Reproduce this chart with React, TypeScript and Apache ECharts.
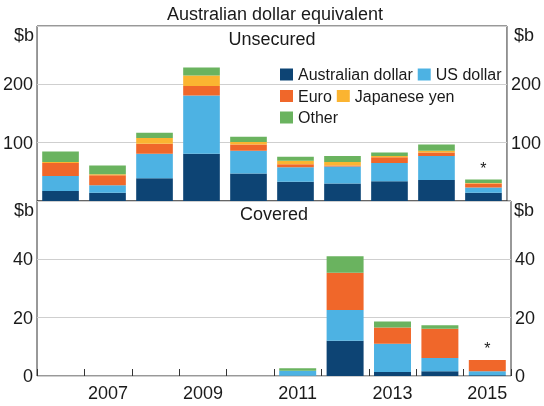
import React, { useEffect, useRef } from 'react';
import * as echarts from 'echarts';

const years = ['2006', '2007', '2008', '2009', '2010', '2011', '2012', '2013', '2014', '2015'];
const seriesNames = ['Australian dollar', 'US dollar', 'Euro', 'Japanese yen', 'Other'];
const colors = ['#0d4474', '#4db2e3', '#f0672a', '#fbb431', '#6ab35f'];

// Unsecured issuance ($b)
const unsecAUD = [17, 14, 39, 81, 47, 33, 30, 34, 36, 14];
const unsecUSD = [26, 13, 42, 100, 39, 25, 29, 31, 41, 9];
const unsecEUR = [22, 17, 17, 16, 11, 5, 2, 10, 6, 7];
const unsecJPY = [2, 2, 10, 18, 4, 6, 6, 2, 3, 1];
const unsecOther = [18, 15, 9, 14, 9, 7, 10, 6, 11, 6];

// Covered issuance ($b)
const covAUD = [0, 0, 0, 0, 0, 0.1, 12.1, 1.4, 1.6, 0.3];
const covUSD = [0, 0, 0, 0, 0, 1.7, 10.5, 9.7, 4.6, 1.3];
const covEUR = [0, 0, 0, 0, 0, 0, 12.8, 5.5, 10, 3.9];
const covJPY = [0, 0, 0, 0, 0, 0, 0, 0, 0, 0];
const covOther = [0, 0, 0, 0, 0, 0.9, 5.7, 2.1, 1.2, 0];

const unsecAxisTicks = { min: 0, max: 300, interval: 100 };
const covAxisTicks = { min: 0, max: 60, interval: 20 };
const starIndex = 9;

const FONT = 'Liberation Sans, Arial, sans-serif';
const TXT = '#1a1a1a';
const FS = 18;

export default function App() {
  const ref = useRef<HTMLDivElement>(null);
  useEffect(() => {
    const chart = echarts.init(ref.current!, null, { renderer: 'svg' });
    const unsec = [unsecAUD, unsecUSD, unsecEUR, unsecJPY, unsecOther];
    const cov = [covAUD, covUSD, covEUR, covJPY, covOther];

    const mkSeries = (arrs: number[][], xi: number, yi: number, stack: string) =>
      arrs.map((arr, i) => ({
        type: 'bar',
        name: seriesNames[i],
        xAxisIndex: xi,
        yAxisIndex: yi,
        stack,
        barCategoryGap: '22%',
        itemStyle: { color: colors[i] },
        data: arr.map((v, j) =>
          i === 4 && j === starIndex
            ? {
                value: v,
                label: {
                  show: true,
                  position: 'top',
                  distance: 3,
                  formatter: '*',
                  fontSize: 16,
                  fontFamily: FONT,
                  color: TXT,
                },
              }
            : v
        ),
      }));

    const yCommon = (gi: number, pos: string, ticks: any, split: boolean) => ({
      type: 'value',
      gridIndex: gi,
      position: pos,
      ...ticks,
      axisLine: { show: false },
      axisTick: { show: false },
      splitLine: { show: split, lineStyle: { color: '#cfcfcf', width: 1 } },
      axisLabel: {
        margin: 4,
        fontSize: FS,
        fontFamily: FONT,
        color: TXT,
        showMaxLabel: false,
        showMinLabel: gi === 1,
      },
    });

    const legendCommon = {
      icon: 'rect',
      itemWidth: 13,
      itemHeight: 12,
      itemGap: 5,
      selectedMode: false,
      padding: 0,
      textStyle: { fontSize: 16, fontFamily: FONT, color: TXT },
    };

    const txt = (text: string, x: number, y: number, align: string) => ({
      type: 'text',
      x,
      y,
      style: {
        text,
        fontSize: FS,
        fontFamily: FONT,
        fill: TXT,
        align,
        verticalAlign: 'middle',
      },
    });

    chart.setOption({
      animation: false,
      grid: [
        { left: 37, right: 33, top: 26, height: 175, show: true, borderColor: '#333', borderWidth: 1 },
        { left: 37, right: 33, top: 201, height: 175, show: true, borderColor: '#333', borderWidth: 1 },
      ],
      xAxis: [
        {
          type: 'category',
          gridIndex: 0,
          data: years,
          axisLine: { show: false },
          axisTick: { show: false },
          axisLabel: { show: false },
        },
        {
          type: 'category',
          gridIndex: 1,
          data: years,
          axisLine: { show: false },
          axisTick: {
            show: true,
            inside: true,
            length: 7,
            interval: 0,
            alignWithLabel: false,
            lineStyle: { color: '#333' },
          },
          axisLabel: {
            interval: (idx: number) => idx % 2 === 1,
            margin: 8,
            fontSize: FS,
            fontFamily: FONT,
            color: TXT,
          },
        },
      ],
      yAxis: [
        yCommon(0, 'left', unsecAxisTicks, true),
        yCommon(0, 'right', unsecAxisTicks, false),
        yCommon(1, 'left', covAxisTicks, true),
        yCommon(1, 'right', covAxisTicks, false),
      ],
      legend: [
        { ...legendCommon, data: [seriesNames[0], seriesNames[1]], left: 280, top: 66.5 },
        { ...legendCommon, data: [seriesNames[2], seriesNames[3]], left: 280, top: 88 },
        { ...legendCommon, data: [seriesNames[4]], left: 280, top: 109.5 },
      ],
      graphic: [
        txt('Australian dollar equivalent', 275, 14, 'center'),
        txt('Unsecured', 272, 38.5, 'center'),
        txt('Covered', 274, 213.5, 'center'),
        txt('$b', 34, 35, 'right'),
        txt('$b', 514, 35, 'left'),
        txt('$b', 34, 209.5, 'right'),
        txt('$b', 514, 209.5, 'left'),
      ],
      series: [...mkSeries(unsec, 0, 0, 'u'), ...mkSeries(cov, 1, 2, 'c')],
    });
    return () => chart.dispose();
  }, []);
  return <div ref={ref} style={{ position: 'fixed', left: 0, top: 0, width: 544, height: 406 }} />;
}
